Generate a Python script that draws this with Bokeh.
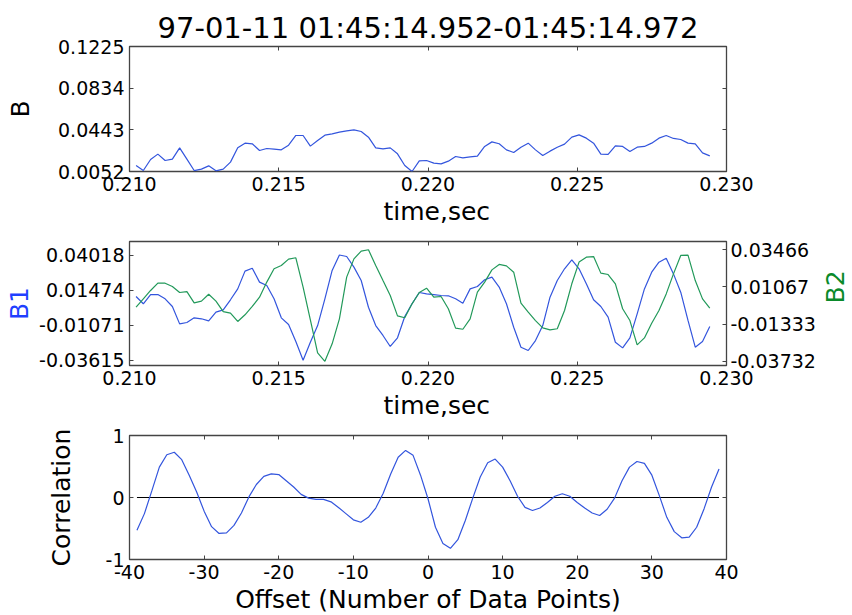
import numpy as np
from bokeh.plotting import figure
from bokeh.models import (LinearAxis, Range1d, FixedTicker, NumeralTickFormatter, Title,
                          CustomLabelingPolicy)
from bokeh.layouts import column
from bokeh.embed import file_html
from bokeh.resources import INLINE

# ---------------- data ----------------
TITLE = "97-01-11 01:45:14.952-01:45:14.972"
t_start, t_end, n_samples = 0.21022, 0.22944, 80
time = np.linspace(t_start, t_end, n_samples)  # uniform sampling times

B = [0.0108, 0.0061, 0.0165, 0.0215, 0.0155, 0.0168, 0.0274, 0.0168, 0.0061, 0.0074,
     0.0105, 0.0058, 0.0074, 0.0140, 0.0274, 0.0318, 0.0312, 0.0249, 0.0268, 0.0262,
     0.0255, 0.0299, 0.0390, 0.0390, 0.0290, 0.0343, 0.0393, 0.0405, 0.0421, 0.0434,
     0.0443, 0.0427, 0.0374, 0.0274, 0.0265, 0.0274, 0.0218, 0.0108, 0.0052, 0.0152,
     0.0155, 0.0130, 0.0124, 0.0149, 0.0193, 0.0180, 0.0190, 0.0196, 0.0287, 0.0330,
     0.0312, 0.0255, 0.0230, 0.0280, 0.0318, 0.0255, 0.0202, 0.0243, 0.0280, 0.0309,
     0.0374, 0.0396, 0.0365, 0.0318, 0.0215, 0.0212, 0.0293, 0.0287, 0.0240, 0.0280,
     0.0287, 0.0318, 0.0365, 0.0390, 0.0362, 0.0352, 0.0318, 0.0312, 0.0227, 0.0199]

B1 = [0.0101, 0.0048, 0.0115, 0.0115, 0.0084, 0.0028, -0.0098, -0.0088, -0.0054, -0.0061,
      -0.0076, -0.0013, 0.0004, 0.0077, 0.0156, 0.0285, 0.0306, 0.0205, 0.0181, 0.0084,
      -0.0054, -0.0102, -0.0226, -0.03615, -0.0231, -0.0110, 0.0084, 0.0290, 0.04018, 0.0391,
      0.0314, 0.0217, 0.0023, -0.0110, -0.0182, -0.0262, -0.0199, -0.0044, 0.0048, 0.0130,
      0.0120, 0.0115, 0.0108, 0.0106, 0.0084, 0.0052, 0.0156, 0.0173, 0.0222, 0.0241,
      0.0169, 0.0048, -0.0122, -0.0267, -0.0291, -0.0219, -0.0110, 0.0096, 0.0217, 0.0302,
      0.0367, 0.0302, 0.0193, 0.0077, 0.0028, -0.0049, -0.0231, -0.0272, -0.0199, -0.0025,
      0.0156, 0.0277, 0.0350, 0.0379, 0.0265, 0.0132, -0.0073, -0.0267, -0.0226, -0.0117]

B2 = [-0.0024, 0.0030, 0.0084, 0.0131, 0.0131, 0.0110, 0.0071, 0.0077, 0.0004, 0.0015,
      0.0060, 0.0015, -0.0052, -0.0062, -0.0116, -0.0073, -0.0019, 0.0041, 0.0138, 0.0224,
      0.0245, 0.0286, 0.0295, 0.0105, -0.0105, -0.0318, -0.03732, -0.0260, -0.0099, 0.0170,
      0.0288, 0.0338, 0.03466, 0.0245, 0.0148, 0.0052, -0.0080, -0.0092, -0.0002, 0.0071,
      0.0099, 0.0041, 0.0045, -0.0034, -0.0159, -0.0166, -0.0099, 0.0073, 0.0138, 0.0217,
      0.0252, 0.0243, 0.0202, 0.0002, -0.0056, -0.0110, -0.0157, -0.0170, -0.0163, -0.0045,
      0.0127, 0.0267, 0.0299, 0.0303, 0.0196, 0.0187, 0.0127, -0.0034, -0.0110, -0.0267,
      -0.0222, -0.0127, -0.0045, 0.0062, 0.0191, 0.0310, 0.0312, 0.0148, 0.0030, -0.0030]

offsets = list(range(-39, 40))
corr = [-0.53, -0.26, 0.11, 0.49, 0.69, 0.73, 0.61, 0.36, 0.09, -0.22,
        -0.47, -0.58, -0.57, -0.45, -0.25, 0.01, 0.21, 0.34, 0.38, 0.37,
        0.27, 0.17, 0.05, -0.01, -0.03, -0.03, -0.07, -0.16, -0.26, -0.36,
        -0.40, -0.32, -0.17, 0.07, 0.38, 0.65, 0.76, 0.68, 0.36, -0.02,
        -0.48, -0.74, -0.82, -0.68, -0.37, -0.01, 0.33, 0.56, 0.62, 0.49,
        0.27, 0.02, -0.16, -0.21, -0.17, -0.08, 0.02, 0.06, 0.02, -0.08,
        -0.17, -0.25, -0.29, -0.19, -0.01, 0.27, 0.49, 0.58, 0.55, 0.36,
        0.03, -0.32, -0.55, -0.65, -0.64, -0.48, -0.18, 0.17, 0.46]

time_ticks = [0.210, 0.215, 0.220, 0.225, 0.230]
B_ticks = [0.0052, 0.0443, 0.0834, 0.1225]
B1_ticks = [-0.03615, -0.01071, 0.01474, 0.04018]
B2_ticks = [-0.03732, -0.01333, 0.01067, 0.03466]
offset_ticks = [-40, -30, -20, -10, 0, 10, 20, 30, 40]
corr_ticks = [-1, 0, 1]

# ---------------- style ----------------
FONT = "DejaVu Sans"
BLUE = "#3355dd"
GREEN = "#22995a"
FRAME = "#444444"
ML, MR = 129, 146          # right border reaches past the window edge (empty space only)
FRAME_RIGHT = 726
W = FRAME_RIGHT + MR
TICK_FONT = "19px"

NO_LABELS = "for (let i = 0; i < indices.size; i++) { indices.unset(i) } return indices"


def style_axis(ax, ticks, fmt, labels=True):
    ax.ticker = FixedTicker(ticks=ticks)
    ax.formatter = NumeralTickFormatter(format=fmt)
    ax.major_tick_in = 4
    ax.major_tick_out = 0
    ax.major_tick_line_color = FRAME
    ax.minor_tick_line_color = None
    ax.axis_line_color = None
    ax.major_label_text_font = FONT
    ax.major_label_text_font_size = TICK_FONT
    ax.major_label_text_color = "black"
    ax.major_label_standoff = 5
    if not labels:
        ax.major_label_policy = CustomLabelingPolicy(code=NO_LABELS)
        ax.major_label_text_font_size = "0px"
        ax.major_label_standoff = 0
    ax.axis_label_text_font = FONT
    ax.axis_label_text_font_size = "25px"
    ax.axis_label_text_font_style = "normal"
    ax.axis_label_text_color = "black"


def make_fig(height, top, bottom, xr, yr):
    p = figure(width=W, height=height, x_range=xr, y_range=yr,
               output_backend="svg", toolbar_location=None,
               min_border_left=ML, min_border_right=MR,
               min_border_top=top, min_border_bottom=bottom)
    p.grid.visible = False
    p.outline_line_color = FRAME
    p.outline_line_width = 1.3
    p.background_fill_color = "white"
    p.border_fill_color = "white"
    return p


def xlabel(p, text, offset):
    p.add_layout(Title(text=text, align="left", offset=offset, text_font=FONT,
                       text_font_size="25px", text_font_style="normal",
                       text_color="black", standoff=2), "below")


# ---- panel 1: B ----
p1 = make_fig(226, 46, 55, Range1d(0.210, 0.230), Range1d(B_ticks[0], B_ticks[-1]))
p1.title.text = TITLE
p1.title.align = "center"
p1.title.text_font = FONT
p1.title.text_font_size = "29px"
p1.title.text_font_style = "normal"
p1.title.text_color = "black"
p1.title.standoff = 4
p1.line(time, B, line_color=BLUE, line_width=1.2)
style_axis(p1.xaxis[0], time_ticks, "0.000")
style_axis(p1.yaxis[0], B_ticks, "0.0000")
p1.yaxis[0].axis_label = "B"
p1.yaxis[0].axis_label_standoff = 20
top1 = LinearAxis(); style_axis(top1, time_ticks, "0.000", labels=False)
right1 = LinearAxis(); style_axis(right1, B_ticks, "0.0000", labels=False)
p1.add_layout(top1, "above")
p1.add_layout(right1, "right")
xlabel(p1, "time,sec", 254)

# ---- panel 2: B1 / B2 ----
p2 = make_fig(194, 15, 55, Range1d(0.210, 0.230), Range1d(-0.04, 0.05))
p2.extra_y_ranges = {"b2": Range1d(-0.04, 0.04)}
p2.line(time, B1, line_color=BLUE, line_width=1.2)
p2.line(time, B2, line_color=GREEN, line_width=1.2, y_range_name="b2")
style_axis(p2.xaxis[0], time_ticks, "0.000")
style_axis(p2.yaxis[0], B1_ticks, "0.00000")
p2.yaxis[0].axis_label = "B1"
p2.yaxis[0].axis_label_text_color = "#1f3fff"
p2.yaxis[0].axis_label_standoff = 2
right2 = LinearAxis(y_range_name="b2")
style_axis(right2, B2_ticks, "0.00000")
right2.major_label_standoff = 4
right2.axis_label = "B2"
right2.axis_label_text_color = "#0a8a2a"
right2.axis_label_standoff = 17
right2.axis_label_orientation = np.pi / 2
p2.add_layout(right2, "right")
top2 = LinearAxis(); style_axis(top2, time_ticks, "0.000", labels=False)
p2.add_layout(top2, "above")
xlabel(p2, "time,sec", 254)

# ---- panel 3: correlation ----
p3 = make_fig(195, 15, 56, Range1d(-40, 40), Range1d(-1, 1))
p3.line([offsets[0], offsets[-1]], [0, 0], line_color="black", line_width=1)
p3.line(offsets, corr, line_color=BLUE, line_width=1.2)
style_axis(p3.xaxis[0], offset_ticks, "0")
style_axis(p3.yaxis[0], corr_ticks, "0")
p3.yaxis[0].axis_label = "Correlation"
p3.yaxis[0].axis_label_standoff = 27
top3 = LinearAxis(); style_axis(top3, offset_ticks, "0", labels=False)
right3 = LinearAxis(); style_axis(right3, corr_ticks, "0", labels=False)
p3.add_layout(top3, "above")
p3.add_layout(right3, "right")
p3.add_layout(Title(text="Offset (Number of Data Points)", align="center",
                    text_font=FONT, text_font_size="25px", text_font_style="normal",
                    text_color="black", standoff=2), "below")

layout = column(p1, p2, p3, spacing=0)
html = file_html(layout, INLINE)
html = html.replace("<head>", "<head><style>html, body { overflow: hidden; margin: 0; }</style>", 1)
open("out.html", "w").write(html)
